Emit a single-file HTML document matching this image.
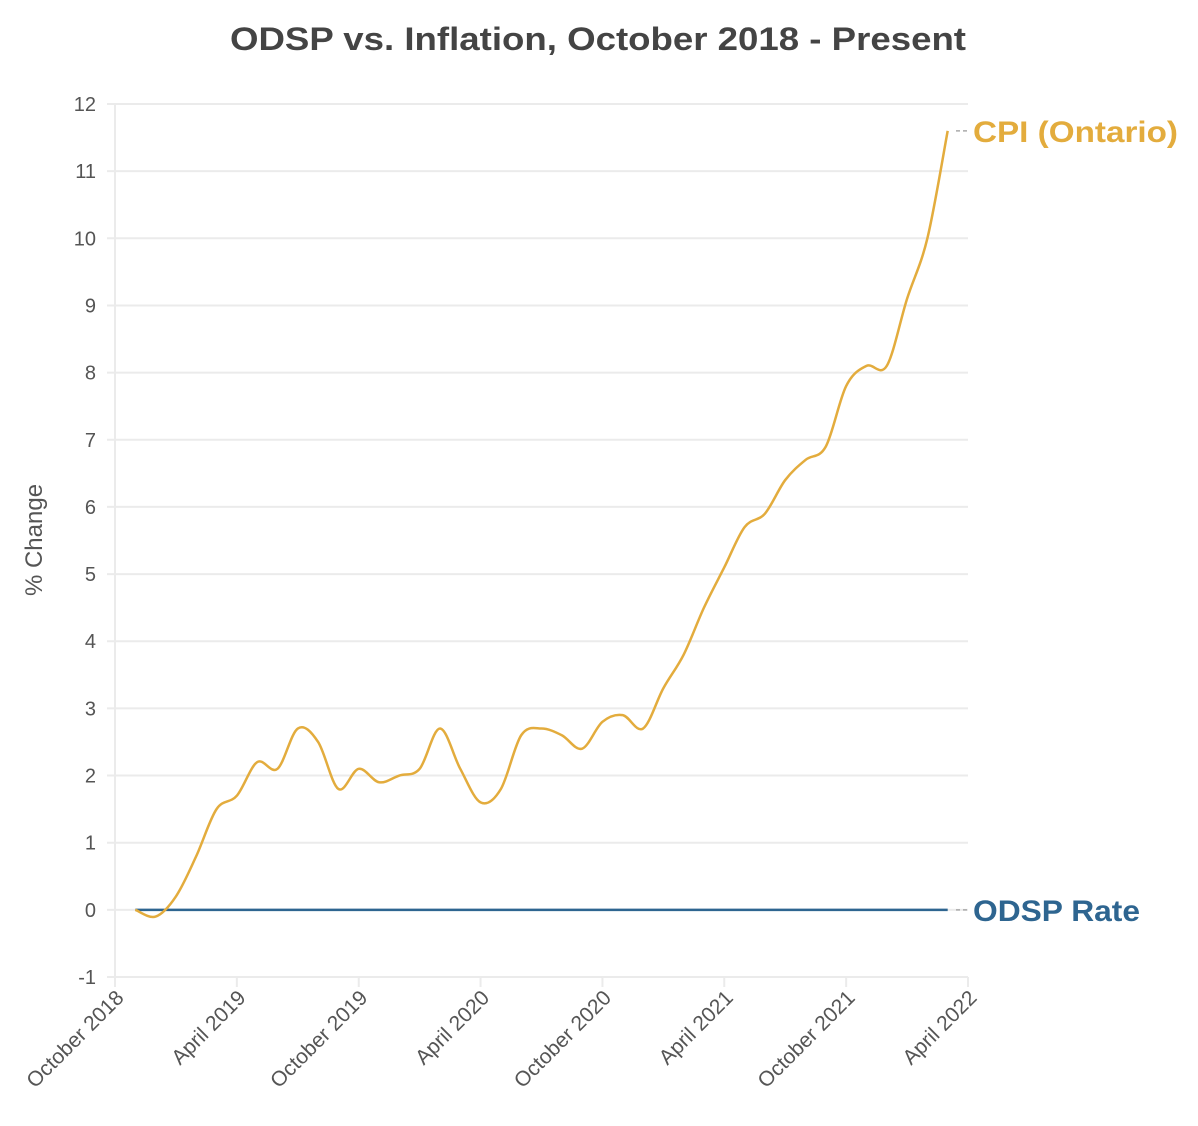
<!DOCTYPE html>
<html><head><meta charset="utf-8">
<style>
html,body{margin:0;padding:0;background:#fff;}
svg{display:block;font-family:"Liberation Sans",sans-serif;}
</style></head>
<body>
<svg id="chart" width="1198" height="1126" viewBox="0 0 1198 1126" xmlns="http://www.w3.org/2000/svg">
<text x="598" y="50" text-anchor="middle" font-size="32" font-weight="bold" fill="#444" textLength="736" lengthAdjust="spacingAndGlyphs">ODSP vs. Inflation, October 2018 - Present</text>
<text transform="translate(42,540) rotate(-90)" text-anchor="middle" font-size="24" fill="#555">% Change</text>
<g id="grid"></g>
<g id="axes"></g>
<g id="series"></g>
<g id="labels"></g>
</svg>
<script>
const yTicks = [-1,0,1,2,3,4,5,6,7,8,9,10,11,12];
const xTickLabels = ["October 2018","April 2019","October 2019","April 2020","October 2020","April 2021","October 2021","April 2022"];
const cpiMonths = [1,2,3,4,5,6,7,8,9,10,11,12,13,14,15,16,17,18,19,20,21,22,23,24,25,26,27,28,29,30,31,32,33,34,35,36,37,38,39,40,41];
const cpiValues = [0,-0.1,0.2,0.8,1.5,1.7,2.2,2.1,2.7,2.5,1.8,2.1,1.9,2.0,2.1,2.7,2.1,1.6,1.8,2.6,2.7,2.6,2.4,2.8,2.9,2.7,3.3,3.8,4.5,5.1,5.7,5.9,6.4,6.7,6.9,7.8,8.1,8.1,9.1,10.0,11.6];
const odspMonths = [1,41];
const odspValues = [0,0];

const NS="http://www.w3.org/2000/svg";
const X0=115, X1=968, MMAX=42, Y0=977, Y1=104;
const xs = m => X0 + (X1-X0)*m/MMAX;
const ys = v => Y0 - (Y0-Y1)*(v+1)/13;
function mk(tag, attrs, parent){const e=document.createElementNS(NS,tag);for(const k in attrs)e.setAttribute(k,attrs[k]);parent.appendChild(e);return e;}
const grid=document.getElementById('grid'), axes=document.getElementById('axes'), series=document.getElementById('series'), labels=document.getElementById('labels');

yTicks.forEach(v=>{
  const l=mk('line',{x1:X0-8,x2:X1,y1:ys(v),y2:ys(v),stroke:'#ebebeb','stroke-width':2},grid);
  
  
  const t=mk('text',{x:96,y:ys(v)+7,'text-anchor':'end','font-size':20,fill:'#555'},axes);
  t.textContent=v;
  
  
});
const ax=mk('line',{x1:X0,x2:X0,y1:Y1,y2:Y0+10,stroke:'#ebebeb','stroke-width':2},axes);


xTickLabels.forEach((s,i)=>{
  const x=xs(i*6);
  const tk=mk('line',{x1:x,x2:x,y1:Y0,y2:Y0+10,stroke:'#ebebeb','stroke-width':2},axes);
  
  
  const t=mk('text',{transform:`translate(${x+10},${Y0+22}) rotate(-45)`,'text-anchor':'end','font-size':21,fill:'#555'},axes);
  t.textContent=s;
  
  
});

function smoothPath(pts){
  let d=`M${pts[0][0]},${pts[0][1]}`;
  for(let i=0;i<pts.length-1;i++){
    const p0=pts[Math.max(0,i-1)],p1=pts[i],p2=pts[i+1],p3=pts[Math.min(pts.length-1,i+2)];
    const c1=[p1[0]+(p2[0]-p0[0])/6,p1[1]+(p2[1]-p0[1])/6];
    const c2=[p2[0]-(p3[0]-p1[0])/6,p2[1]-(p3[1]-p1[1])/6];
    d+=` C${c1[0]},${c1[1]} ${c2[0]},${c2[1]} ${p2[0]},${p2[1]}`;
  }
  return d;
}
const op=mk('path',{d:smoothPath(odspMonths.map((m,i)=>[xs(m),ys(odspValues[i])])),fill:'none',stroke:'#2E6590','stroke-width':2.5},series);


const cp=mk('path',{d:smoothPath(cpiMonths.map((m,i)=>[xs(m),ys(cpiValues[i])])),fill:'none',stroke:'#E3AC3D','stroke-width':2.5},series);



function endLabel(txt,val,color,name,w){
  const y=ys(val);
  const c=mk('line',{x1:X1-12,x2:X1-1,y1:y,y2:y,stroke:'#aaa','stroke-width':1.5,'stroke-dasharray':'4,3'},labels);
  
  
  const t=mk('text',{x:973,y:y+11,'font-size':30,'font-weight':'bold',fill:color,textLength:w,lengthAdjust:'spacingAndGlyphs'},labels);
  t.textContent=txt;
  
  
}
endLabel('CPI (Ontario)',cpiValues[cpiValues.length-1],'#E3AC3D','cpi-ontario',205);
endLabel('ODSP Rate',odspValues[odspValues.length-1],'#2E6590','odsp-rate',167);
</script>
</body></html>
